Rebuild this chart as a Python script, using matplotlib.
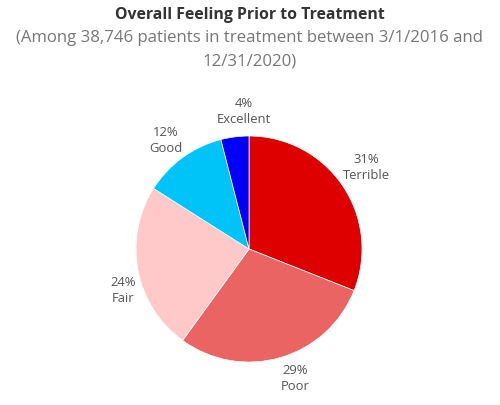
import matplotlib
matplotlib.use("Agg")
import matplotlib.pyplot as plt
import numpy as np

categories = ["Terrible", "Poor", "Fair", "Good", "Excellent"]
values = [31, 29, 24, 12, 4]
colors = ["#DE0000", "#EA6464", "#FFC9C9", "#00C4F8", "#0000F5"]

plt.rcParams['font.family'] = ['Open Sans', 'DejaVu Sans']

fig = plt.figure(figsize=(5.0, 4.06), dpi=100)
cx, cy, r = 249, 250, 113
W, H = 500, 406
ax = fig.add_axes([(cx - r) / W, (H - cy - r) / H, 2 * r / W, 2 * r / H])

labels = [f"{v}%\n{c}" for c, v in zip(categories, values)]
wedges, texts = ax.pie(values, colors=colors, startangle=90, counterclock=False,
                       labels=labels, labeldistance=1.25, radius=1,
                       wedgeprops=dict(linewidth=0.5, edgecolor="white"),
                       textprops=dict(fontsize=9.4, color="#555555", linespacing=1.3))
# label placement (in radius units relative to the pie centre)
label_pos = [(1.035, 0.73), (0.407, -1.133), (-1.115, -0.354), (-0.735, 0.969), (-0.044, 1.23)]
for t, p in zip(texts, label_pos):
    t.set_position(p)
    t.set_ha("center")
    t.set_va("center")
ax.set_xlim(-1, 1)
ax.set_ylim(-1, 1)
ax.set_aspect("auto")
ax.axis("off")

fig.text(0.5, 1 - 15 / H, "Overall Feeling Prior to Treatment", ha="center", va="center",
         fontsize=11.4, fontweight="bold", color="#333333")
fig.text(0.5, 1 - 38 / H, "(Among 38,746 patients in treatment between 3/1/2016 and",
         ha="center", va="center", fontsize=12.1, color="#777777")
fig.text(0.5, 1 - 62 / H, "12/31/2020)", ha="center", va="center", fontsize=12.1, color="#777777")

fig.savefig("out.png", dpi=100, facecolor="white")
